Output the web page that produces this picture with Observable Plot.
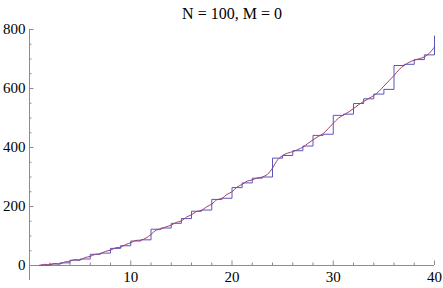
<!DOCTYPE html>
<html><head><meta charset="utf-8">
<script src="https://cdn.jsdelivr.net/npm/d3@7"></script>
<script src="https://cdn.jsdelivr.net/npm/@observablehq/plot@0.6"></script>
<style>html,body{margin:0;padding:0;background:#fff;} svg{display:block}</style>
</head><body><div id="chart"></div>
<script>
const title = "N = 100, M = 0";

// step series (blue)
const stepX = [1,2,3,4,5,6,7,8,9,10,11,12,13,14,15,16,17,18,19,20,21,22,23,24,25,26,27,28,29,30,31,32,33,34,35,36,37,38,39,40];
const stepY = [1,5,9,18,22,38,42,58,67,83,87,123,127,143,159,184,188,224,228,264,280,296,300,364,373,389,405,441,445,509,513,549,565,581,597,678,682,698,714,778];

// smooth approximation (red)
const smoothX = [1,1.5,2,2.5,3,3.5,4,4.5,5,5.5,6,6.5,7,7.5,8,8.5,9,9.5,10,10.5,11,11.5,12,12.5,13,13.5,14,14.5,15,15.5,16,16.5,17,17.5,18,18.5,19,19.5,20,20.5,21,21.5,22,22.5,23,23.5,24,24.5,25,25.5,26,26.5,27,27.5,28,28.5,29,29.5,30,30.5,31,31.5,32,32.5,33,33.5,34,34.5,35,35.5,36,36.5,37,37.5,38,38.5,39,39.5,40];
const smoothY = [0,4,2,7,5,12,15,20,19,27,31,38,40,48,52,60,62,71,77,85,86,93,105,120,125,131,137,146,151,164,172,183,187,199,208,223,227,241,250,266,275,286,290,297,300,309,330,358,373,381,386,393,401,414,426,437,447,464,482,499,510,520,532,545,556,566,576,590,608,626,644,664,678,689,696,701,707,720,741];

const xMajorTicks = [10,20,30,40];
const xMinorTicks = [2,4,6,8,12,14,16,18,22,24,26,28,32,34,36,38];
const yMajorTicks = [0,200,400,600,800];
const yMinorTicks = [50,100,150,250,300,350,450,500,550,650,700,750];

const stepData = stepX.map((x, i) => ({x, y: stepY[i]}));
const smoothData = smoothX.map((x, i) => ({x, y: smoothY[i]}));

const serif = "'Liberation Serif', 'Times New Roman', Times, serif";
const axisColor = "#8c8c8c";

const chart = Plot.plot({
  width: 443, height: 288,
  marginLeft: 29, marginRight: 9, marginTop: 29, marginBottom: 23,
  x: {domain: [0, 40], axis: null},
  y: {domain: [0, 800], axis: null},
  style: {fontFamily: serif, fontSize: "15px", background: "#fff", color: "#000"},
  marks: [
    // axis lines
    Plot.ruleY([0], {stroke: axisColor}),
    Plot.ruleX([0], {stroke: axisColor, insetBottom: -15}),
    // inward ticks on x axis (zero-length rules extended by negative inset)
    Plot.ruleX(xMajorTicks, {x: d => d, y1: 0, y2: 0, insetTop: -4.5, stroke: axisColor}),
    Plot.ruleX(xMinorTicks, {x: d => d, y1: 0, y2: 0, insetTop: -2.5, stroke: axisColor}),
    // inward ticks on y axis
    Plot.ruleY(yMajorTicks, {y: d => d, x1: 0, x2: 0, insetRight: -4.5, stroke: axisColor}),
    Plot.ruleY(yMinorTicks, {y: d => d, x1: 0, x2: 0, insetRight: -2.5, stroke: axisColor}),
    // tick labels
    Plot.axisX(xMajorTicks, {tickSize: 0, tickPadding: 6, fontSize: 15, fill: "#000", label: null}),
    Plot.axisY(yMajorTicks, {tickSize: 0, tickPadding: 4, fontSize: 15, fill: "#000", label: null}),
    // data
    Plot.line(stepData, {x: "x", y: "y", curve: "step-after", stroke: "#5656bd", strokeWidth: 1}),
    Plot.line(smoothData, {x: "x", y: "y", curve: "catmull-rom", stroke: "#a23c72", strokeWidth: 1}),
    Plot.text([title], {frameAnchor: "top", lineAnchor: "bottom", dy: -11, fontSize: 16, fill: "#000"})
  ]
});
document.getElementById("chart").appendChild(chart);
</script>
</body></html>
